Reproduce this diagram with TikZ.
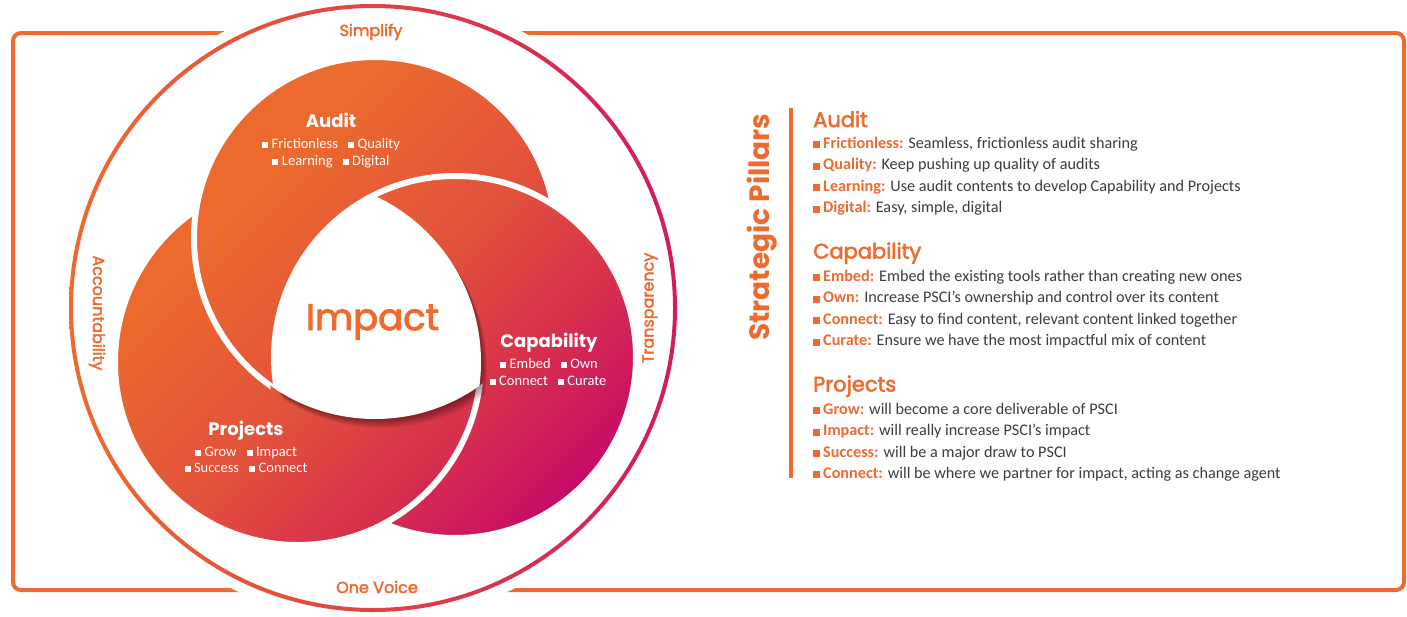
\documentclass[tikz,border=0pt]{standalone}
\usepackage{fontspec}
\usepackage{xcolor}
\usepackage{tikz}

\setmainfont{Carlito}
\newfontfamily\headfont{Poppins}
\newfontfamily\headmed{Poppins}[FakeBold=2.5]

\definecolor{pillarorange}{HTML}{EE6A2F}
\definecolor{pillargrey}{HTML}{3C3C3C}
\definecolor{ringred}{HTML}{D21C5B}
\definecolor{petalA}{HTML}{EC6A2D}
\definecolor{petalB}{HTML}{E2503C}
\definecolor{petalC}{HTML}{D8304C}
\definecolor{petalD}{HTML}{C6066B}

\pgfdeclarehorizontalshading{petalshade}{100bp}{color(0bp)=(petalA); color(34bp)=(petalA); color(52bp)=(petalB); color(64bp)=(petalC); color(78bp)=(petalD); color(100bp)=(petalD)}

\newcommand\petalfill{\shade[shading=petalshade, shading angle=-45] (110,50) rectangle (640,560);}
\newcommand\impactclip{\clip (375,238) circle (181); \clip (298,362) circle (183); \clip (455,357) circle (181);}
\newcommand\orsq{{\color{pillarorange}\rule{7pt}{7pt}}\hspace{3pt}}
\newcommand\whsq{\rule{6pt}{6pt}\hspace{3.5pt}}
\newcommand\lbl[1]{\textbf{\color{pillarorange}#1}}

\tikzset{
    petalgap/.style={draw=white, line width=6pt},
    ringtext/.style={text=pillarorange, font=\headmed\fontsize{16}{18}\selectfont},
    petalhead/.style={text=white, anchor=base, font=\headfont\bfseries\fontsize{18}{20}\selectfont},
    petalpts/.style={text=white, anchor=base, font=\fontsize{14.5}{16}\selectfont},
    colhead/.style={text=pillarorange, anchor=base west, inner sep=0pt, font=\headmed\fontsize{21}{24}\selectfont},
    colitem/.style={text=pillargrey, anchor=base west, inner sep=0pt, font=\fontsize{16.2}{18}\selectfont}
}

\begin{document}
\begin{tikzpicture}[x=1pt, y=-1pt]
    \useasboundingbox (0,0) rectangle (1407,616);

    \draw [pillarorange, line width=4pt, rounded corners=8pt] (13,33) rectangle (1404,590);

    % outer ring, cut out of the frame
    \fill [white] (373,308) circle (314);
    \shade [left color=pillarorange, right color=ringred, even odd rule] (373,308) circle (304) (373,308) circle (300);
    \node [ringtext, anchor=base] (simplify) at (371,36) {Simplify};
    \node [ringtext, anchor=base] (onevoice) at (377,593) {One Voice};
    \node [ringtext, rotate=-90] (accountability) at (97,313) {Accountability};
    \node [ringtext, rotate=90] (transparency) at (650,308) {Transparency};

    % petals: projects under audit, audit under capability, capability under projects
    \begin{scope}
        \clip (298,362) circle (183);
        \petalfill
    \end{scope}
    \draw [petalgap] (298,362) circle (183);
    \begin{scope}
        \clip (375,238) circle (181);
        \petalfill
    \end{scope}
    \draw [petalgap] (375,238) circle (181);
    \begin{scope}
        \clip (455,357) circle (181);
        \petalfill
    \end{scope}
    \draw [petalgap] (455,357) circle (181);
    \begin{scope}[even odd rule]
        \clip (455,357) circle (187);
        \clip (0,0) rectangle (700,616) (375,238) circle (181);
        \begin{scope}
            \clip (298,362) circle (183);
            \petalfill
        \end{scope}
        \draw [petalgap] (298,362) circle (183);
    \end{scope}

    % soft shadow and the white centre
    \foreach \s in {1,...,9} {
        \begin{scope}[shift={(0.7*\s,1.0*\s)}]
            \impactclip
            \fill [black, opacity=0.05] (200,150) rectangle (560,460);
        \end{scope}
    }
    \begin{scope}
        \impactclip
        \fill [white] (200,150) rectangle (560,460);
    \end{scope}
    \node [text=pillarorange, anchor=base, font=\headmed\fontsize{37}{40}\selectfont] (impact) at (372.5,330) {Impact};

    \node [petalhead] (auditlbl) at (331,127) {Audit};
    \node [petalpts] (auditpts1) at (331,148) {\whsq Frictionless\hspace{10pt}\whsq Quality};
    \node [petalpts] (auditpts2) at (331,165) {\whsq Learning\hspace{10pt}\whsq Digital};
    \node [petalhead] (caplbl) at (549,347) {Capability};
    \node [petalpts] (cappts1) at (549,368) {\whsq Embed\hspace{10pt}\whsq Own};
    \node [petalpts] (cappts2) at (548,385) {\whsq Connect\hspace{10pt}\whsq Curate};
    \node [petalhead] (projlbl) at (246,435) {Projects};
    \node [petalpts] (projpts1) at (246,456) {\whsq Grow\hspace{10pt}\whsq Impact};
    \node [petalpts] (projpts2) at (246,472) {\whsq Success\hspace{10pt}\whsq Connect};

    % pillar list
    \node [rotate=90, text=pillarorange, font=\headfont\bfseries\fontsize{28}{30}\selectfont] (pillars) at (762,227) {Strategic Pillars};
    \coordinate (ruletop) at (791,108);
    \coordinate (rulebot) at (791,478);
    \draw [pillarorange, line width=3.5pt] (ruletop) -- (rulebot);

    \node [colhead] (audithead) at (813,127) {Audit};
    \node [colitem] (audit1) at (813,148) {\orsq\lbl{Frictionless:} Seamless, frictionless audit sharing};
    \node [colitem] (audit2) at (813,169.5) {\orsq\lbl{Quality:} Keep pushing up quality of audits};
    \node [colitem] (audit3) at (813,191) {\orsq\lbl{Learning:} Use audit contents to develop Capability and Projects};
    \node [colitem] (audit4) at (813,212.5) {\orsq\lbl{Digital:} Easy, simple, digital};

    \node [colhead] (caphead) at (813,258.5) {Capability};
    \node [colitem] (cap1) at (813,281) {\orsq\lbl{Embed:} Embed the existing tools rather than creating new ones};
    \node [colitem] (cap2) at (813,302.5) {\orsq\lbl{Own:} Increase PSCI’s ownership and control over its content};
    \node [colitem] (cap3) at (813,324) {\orsq\lbl{Connect:} Easy to find content, relevant content linked together};
    \node [colitem] (cap4) at (813,345.5) {\orsq\lbl{Curate:} Ensure we have the most impactful mix of content};

    \node [colhead] (projhead) at (813,391.5) {Projects};
    \node [colitem] (proj1) at (813,414) {\orsq\lbl{Grow:} will become a core deliverable of PSCI};
    \node [colitem] (proj2) at (813,435.5) {\orsq\lbl{Impact:} will really increase PSCI’s impact};
    \node [colitem] (proj3) at (813,457) {\orsq\lbl{Success:} will be a major draw to PSCI};
    \node [colitem] (proj4) at (813,478) {\orsq\lbl{Connect:} will be where we partner for impact, acting as change agent};
\end{tikzpicture}
\end{document}
